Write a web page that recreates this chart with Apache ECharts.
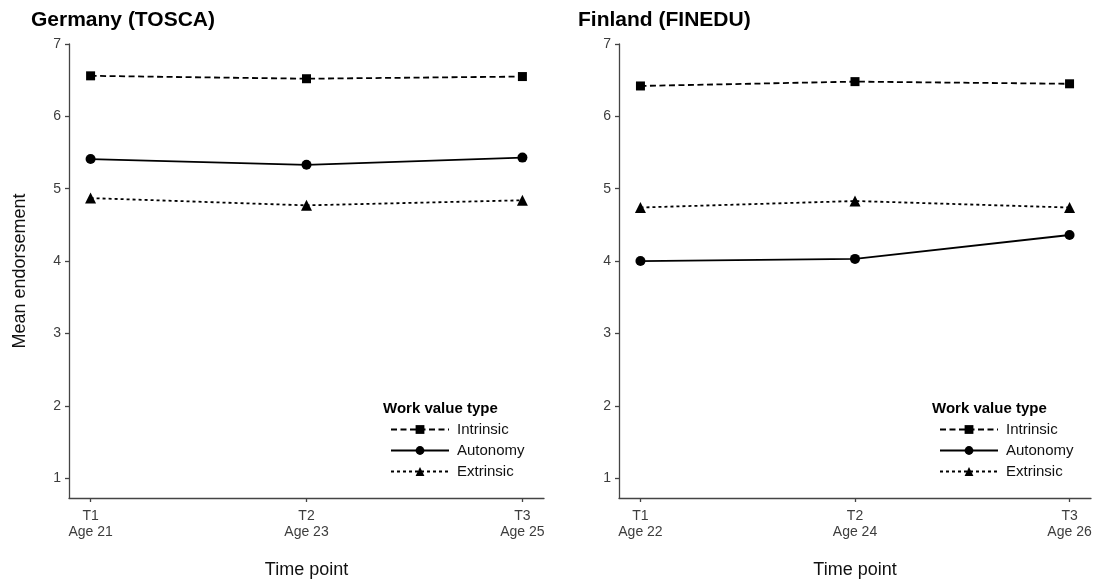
<!DOCTYPE html>
<html>
<head>
<meta charset="utf-8">
<script src="https://cdn.jsdelivr.net/npm/echarts@6/dist/echarts.min.js"></script>
<style>
html,body{margin:0;padding:0;background:#fff;}
#main{width:1096px;height:584px;}
</style>
</head>
<body>
<div id="main"></div>
<script>
// ---- data ----
var timePoints = [1, 2, 3];
var germanyLabels = ['T1\nAge 21', 'T2\nAge 23', 'T3\nAge 25'];
var finlandLabels = ['T1\nAge 22', 'T2\nAge 24', 'T3\nAge 26'];
var yTicks = [1, 2, 3, 4, 5, 6, 7];
var seriesNames = ['Intrinsic', 'Autonomy', 'Extrinsic'];
var germanyIntrinsic = [6.56, 6.52, 6.55];
var germanyAutonomy = [5.41, 5.33, 5.43];
var germanyExtrinsic = [4.87, 4.77, 4.84];
var finlandIntrinsic = [6.42, 6.48, 6.45];
var finlandAutonomy = [4.00, 4.03, 4.36];
var finlandExtrinsic = [4.74, 4.83, 4.74];
var panelTitles = ['Germany (TOSCA)', 'Finland (FINEDU)'];
var legendTitle = 'Work value type';

var FONT = '"Liberation Sans", Arial, Helvetica, sans-serif';
var AXIS_COLOR = '#444';
var TEXT_GREY = '#3d3d3d';

function pts(vals) { return timePoints.map(function (t, i) { return [t, vals[i]]; }); }

var styles = {
  Intrinsic: { symbol: 'rect', symbolSize: 9, lineType: [6, 3.5] },
  Autonomy: { symbol: 'circle', symbolSize: 10, lineType: 'solid' },
  Extrinsic: { symbol: 'triangle', symbolSize: 11, lineType: [3, 3] }
};

function makeSeries(name, vals, idx) {
  var s = styles[name];
  return {
    name: name, type: 'line', xAxisIndex: idx, yAxisIndex: idx,
    data: pts(vals), symbol: s.symbol, symbolSize: s.symbolSize,
    showAllSymbol: true, silent: true, animation: false,
    itemStyle: { color: '#000' },
    lineStyle: { color: '#000', width: 1.8, type: s.lineType }
  };
}

function xAxis(idx, labels) {
  return {
    type: 'value', gridIndex: idx, min: 0.9, max: 3.1,
    name: 'Time point', nameLocation: 'middle', nameGap: 63,
    nameTextStyle: { fontFamily: FONT, fontSize: 18, color: '#111' },
    axisLine: { show: true, onZero: false, lineStyle: { color: AXIS_COLOR, width: 1.3 } },
    axisTick: { show: true, length: 4, customValues: timePoints, lineStyle: { color: AXIS_COLOR, width: 1.3 } },
    axisLabel: {
      customValues: timePoints, margin: 10,
      fontFamily: FONT, fontSize: 14, color: TEXT_GREY, lineHeight: 16,
      formatter: function (v) { return labels[Math.round(v) - 1]; }
    },
    splitLine: { show: false }
  };
}

function yAxis(idx, showName) {
  return {
    type: 'value', gridIndex: idx, min: 0.725, max: 7,
    name: showName ? 'Mean endorsement' : '', nameLocation: 'middle', nameGap: 40,
    nameTextStyle: { fontFamily: FONT, fontSize: 18, color: '#111' },
    axisLine: { show: true, onZero: false, lineStyle: { color: AXIS_COLOR, width: 1.3 } },
    axisTick: { show: true, length: 4, customValues: yTicks, lineStyle: { color: AXIS_COLOR, width: 1.3 } },
    axisLabel: {
      customValues: yTicks, margin: 8,
      fontFamily: FONT, fontSize: 14, color: TEXT_GREY
    },
    splitLine: { show: false }
  };
}

function legend(left) {
  return {
    data: seriesNames, orient: 'vertical', left: left, top: 422,
    itemWidth: 58, itemHeight: 11, itemGap: 6, selectedMode: false,
    textStyle: { fontFamily: FONT, fontSize: 15, color: '#111', lineHeight: 15, padding: [0, 0, 0, 3] },
    padding: 0
  };
}

var option = {
  backgroundColor: '#fff',
  animation: false,
  title: [
    { text: panelTitles[0], left: 31, top: 10, padding: 0, textStyle: { fontFamily: FONT, fontSize: 21, fontWeight: 'bold', color: '#000' } },
    { text: panelTitles[1], left: 578, top: 10, padding: 0, textStyle: { fontFamily: FONT, fontSize: 21, fontWeight: 'bold', color: '#000' } },
    { text: legendTitle, left: 383, top: 401, padding: 0, textStyle: { fontFamily: FONT, fontSize: 15, fontWeight: 'bold', color: '#000' } },
    { text: legendTitle, left: 932, top: 401, padding: 0, textStyle: { fontFamily: FONT, fontSize: 15, fontWeight: 'bold', color: '#000' } }
  ],
  legend: [legend(390), legend(939)],
  grid: [
    { left: 69, right: 552, top: 44, bottom: 84, containLabel: false },
    { left: 619, right: 5, top: 44, bottom: 84, containLabel: false }
  ],
  xAxis: [xAxis(0, germanyLabels), xAxis(1, finlandLabels)],
  yAxis: [yAxis(0, true), yAxis(1, false)],
  series: [
    makeSeries('Intrinsic', germanyIntrinsic, 0),
    makeSeries('Autonomy', germanyAutonomy, 0),
    makeSeries('Extrinsic', germanyExtrinsic, 0),
    makeSeries('Intrinsic', finlandIntrinsic, 1),
    makeSeries('Autonomy', finlandAutonomy, 1),
    makeSeries('Extrinsic', finlandExtrinsic, 1)
  ]
};

var chart = echarts.init(document.getElementById('main'), null, { renderer: 'canvas' });
chart.setOption(option);
</script>
</body>
</html>
